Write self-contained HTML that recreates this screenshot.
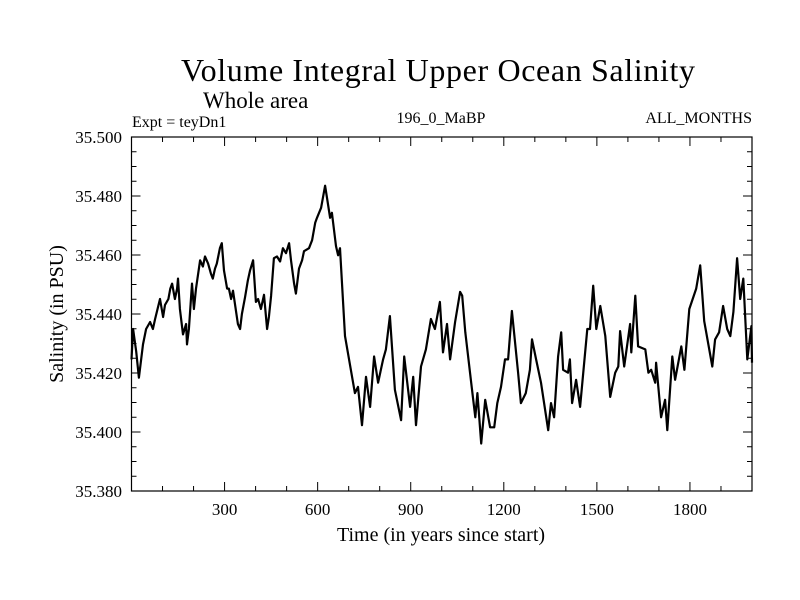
<!DOCTYPE html>
<html><head><meta charset="utf-8"><style>
html,body{margin:0;padding:0;background:#fff;}
svg{display:block;font-family:"Liberation Serif",serif;}
</style></head><body>
<svg id="chart" width="800" height="600">
<rect width="800" height="600" fill="#fff"/>
<text x="438" y="81" font-size="32" text-anchor="middle" textLength="514">Volume Integral Upper Ocean Salinity</text>
<text x="203" y="108" font-size="23">Whole area</text>
<text x="132" y="127" font-size="16">Expt = teyDn1</text>
<text x="441" y="123" font-size="16" text-anchor="middle">196_0_MaBP</text>
<text x="752" y="123" font-size="16" text-anchor="end">ALL_MONTHS</text>
<text x="441" y="541" font-size="20" text-anchor="middle">Time (in years since start)</text>
<text transform="translate(63,314) rotate(-90)" font-size="20" text-anchor="middle">Salinity (in PSU)</text>
<g id="axes"></g>
<path id="series" fill="none" stroke="#000" stroke-width="2.2" stroke-linejoin="round"/>
<rect x="131.5" y="137" width="620.5" height="354" fill="none" stroke="#000" stroke-width="1.2"/>
</svg>
<script>
const years = [0,5,15,24,37,47,60,69,76,92,102,108,119,125,131,140,147,150,156,166,176,179,185,195,201,208,221,230,237,247,256,262,269,275,285,291,298,308,314,321,327,343,350,356,366,375,382,392,401,408,417,427,437,443,450,459,469,479,488,498,508,514,524,530,540,550,556,572,582,592,598,611,624,630,640,646,659,666,672,688,720,730,743,756,769,782,795,811,820,833,849,869,879,898,908,917,933,949,965,978,994,1004,1017,1027,1043,1059,1066,1076,1095,1108,1115,1127,1140,1156,1169,1179,1191,1204,1214,1226,1246,1255,1271,1284,1291,1304,1320,1343,1352,1362,1375,1385,1391,1407,1413,1420,1433,1446,1469,1478,1488,1498,1511,1527,1543,1559,1569,1575,1588,1607,1611,1624,1633,1656,1666,1675,1688,1691,1707,1720,1727,1743,1752,1772,1782,1798,1820,1833,1846,1872,1881,1894,1907,1920,1930,1940,1952,1962,1972,1985,1998,2000];
const salinity = [35.4246,35.4349,35.4273,35.4184,35.4297,35.4349,35.4373,35.4349,35.4383,35.4451,35.4390,35.4431,35.4451,35.4486,35.4503,35.4451,35.4486,35.4520,35.4417,35.4331,35.4366,35.4297,35.4349,35.4503,35.4417,35.4486,35.4582,35.4561,35.4595,35.4571,35.4537,35.4520,35.4554,35.4571,35.4623,35.4640,35.4547,35.4486,35.4486,35.4451,35.4479,35.4366,35.4349,35.4400,35.4458,35.4513,35.4547,35.4582,35.4441,35.4451,35.4417,35.4465,35.4349,35.4390,35.4462,35.4589,35.4595,35.4578,35.4623,35.4606,35.4640,35.4582,35.4503,35.4469,35.4554,35.4582,35.4613,35.4623,35.4650,35.4709,35.4726,35.4760,35.4835,35.4794,35.4726,35.4743,35.4630,35.4599,35.4623,35.4325,35.4132,35.4153,35.4023,35.4187,35.4085,35.4256,35.4167,35.4246,35.4280,35.4393,35.4143,35.4040,35.4256,35.4085,35.4187,35.4023,35.4222,35.4280,35.4383,35.4349,35.4441,35.4270,35.4366,35.4246,35.4373,35.4475,35.4462,35.4338,35.4167,35.4050,35.4132,35.3961,35.4109,35.4016,35.4016,35.4098,35.4153,35.4246,35.4246,35.4410,35.4201,35.4098,35.4132,35.4211,35.4314,35.4246,35.4167,35.4006,35.4098,35.4050,35.4256,35.4338,35.4211,35.4201,35.4246,35.4098,35.4177,35.4085,35.4349,35.4349,35.4496,35.4349,35.4427,35.4325,35.4119,35.4201,35.4222,35.4342,35.4222,35.4366,35.4270,35.4462,35.4290,35.4280,35.4201,35.4211,35.4167,35.4235,35.4050,35.4109,35.4006,35.4256,35.4177,35.4290,35.4211,35.4417,35.4486,35.4565,35.4376,35.4222,35.4314,35.4338,35.4427,35.4349,35.4325,35.4407,35.4589,35.4451,35.4520,35.4246,35.4359,35.4235];
const xTicks = [300,600,900,1200,1500,1800];
const yTicks = [35.38,35.40,35.42,35.44,35.46,35.48,35.50];
const yTickLabels = ["35.380","35.400","35.420","35.440","35.460","35.480","35.500"];

const X0=131.5, X1=752, Y0=137, Y1=491, XMIN=0, XMAX=2000, YMIN=35.38, YMAX=35.50;
function sx(v){return X0+(v-XMIN)/(XMAX-XMIN)*(X1-X0);}
function sy(v){return Y1-(v-YMIN)/(YMAX-YMIN)*(Y1-Y0);}
const NS='http://www.w3.org/2000/svg';
const axes=document.getElementById('axes');
function line(x1,y1,x2,y2,name){
  const l=document.createElementNS(NS,'line');
  l.setAttribute('x1',x1);l.setAttribute('y1',y1);l.setAttribute('x2',x2);l.setAttribute('y2',y2);
  l.setAttribute('stroke','#000');l.setAttribute('stroke-width','1');
  
  
  axes.appendChild(l);
}
for(let v=100; v<XMAX; v+=100){
  const major = xTicks.includes(v);
  const len = major?9:5;
  line(sx(v),Y1,sx(v),Y1-len,'x-tick');
  line(sx(v),Y0,sx(v),Y0+len,'x-tick-top');
}
for(let i=1;i<24;i++){
  const v=YMIN+i*0.005;
  const major=(i%4===0);
  const len=major?9:5;
  line(X0,sy(v),X0+len,sy(v),'y-tick');
  line(X1,sy(v),X1-len,sy(v),'y-tick-right');
}
xTicks.forEach(v=>{
  const t=document.createElementNS(NS,'text');
  t.setAttribute('x',sx(v));t.setAttribute('y',515);
  t.setAttribute('font-size','17');t.setAttribute('text-anchor','middle');
  t.textContent=v;
  
  
  axes.appendChild(t);
});
yTicks.forEach((v,i)=>{
  const t=document.createElementNS(NS,'text');
  t.setAttribute('x',122);t.setAttribute('y',sy(v)+6);
  t.setAttribute('font-size','17');t.setAttribute('text-anchor','end');
  t.textContent=yTickLabels[i];
  
  
  axes.appendChild(t);
});
let d='';
years.forEach((yr,i)=>{ d+=(i?'L':'M')+sx(yr).toFixed(1)+','+sy(salinity[i]).toFixed(1); });
document.getElementById('series').setAttribute('d',d);
</script>
</body></html>
